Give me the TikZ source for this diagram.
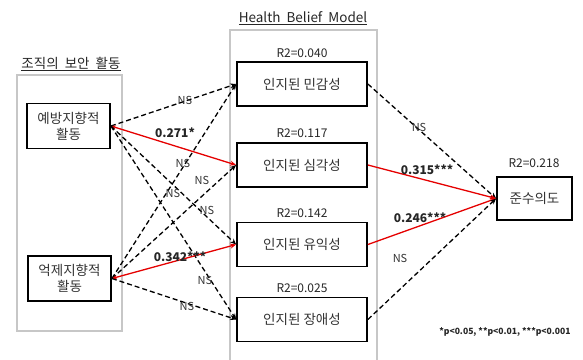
\documentclass[tikz,border=0pt]{standalone}
\usepackage{fontspec}
\setmainfont{Noto Sans CJK KR}
\usetikzlibrary{arrows.meta}
\begin{document}
\begin{tikzpicture}[x=1pt,y=-1pt,
 box/.style={draw=black,line width=1.8pt,minimum width=130pt,minimum height=44pt,inner sep=0pt,align=center,font=\fontsize{13.5}{16}\selectfont,text=black!80},
 grp/.style={draw=black!22,line width=1.5pt},
 ns/.style={draw=black,line width=1.3pt,dash pattern=on 5pt off 3pt,-{Stealth[length=6pt,width=5pt]}},
 sig/.style={draw=red!90!black,line width=1.3pt,{Stealth[length=5pt,width=4pt]}-{Stealth[length=6pt,width=5pt]}},
 lab/.style={font=\fontsize{11}{13}\selectfont,text=black!80,inner sep=0pt},
 blab/.style={font=\bfseries\fontsize{12}{14}\selectfont,inner sep=0pt,text=black!85},
 r2/.style={font=\fontsize{12}{14}\selectfont,text=black!85,inner sep=0pt},
 ttl/.style={font=\fontsize{13.5}{16}\selectfont,text=black!85,inner sep=0pt}]
\useasboundingbox (0,0) rectangle (583,359);
% group frames
\draw[grp] (17,75) rectangle (122,331);
\draw[grp] (230,30) rectangle (377,362);
\node[ttl] (t1) at (71,64) {\underline{조직의\ \ 보안\ \ 활동}};
\node[ttl] (t2) at (303,18) {\underline{Health\ \ Belief\ \ Model}};
% nodes
\node[box,minimum width=83pt,minimum height=45pt] (p) at (68.5,126) {예방지향적\\활동};
\node[box,minimum width=83pt,minimum height=45pt] (q) at (69.5,278.5) {억제지향적\\활동};
\node[box] (m1) at (302,84) {인지된 민감성};
\node[box] (m2) at (302,165) {인지된 심각성};
\node[box] (m3) at (302,244.5) {인지된 유익성};
\node[box] (m4) at (302,319.5) {인지된 장애성};
\node[box,minimum width=75pt,minimum height=43pt] (c) at (534.5,198.5) {준수의도};
% R2 labels
\node[r2] (r1) at (302,53) {R2=0.040};
\node[r2] (r2a) at (302,133) {R2=0.117};
\node[r2] (r3) at (302,213) {R2=0.142};
\node[r2] (r4) at (302,288) {R2=0.025};
\node[r2] (r5) at (534,163) {R2=0.218};
% left paths
\draw[ns] (p.east) -- (m1.west);
\draw[sig] (p.east) -- (m2.west);
\draw[ns] (p.east) -- (m3.west);
\draw[ns] (p.east) -- (m4.west);
\draw[ns] (q.east) -- (m1.west);
\draw[ns] (q.east) -- (m2.west);
\draw[sig] (q.east) -- (m3.west);
\draw[ns] (q.east) -- (m4.west);
% right paths
\draw[ns] (m1.east) -- (c.west);
\draw[sig,-{Stealth[length=6pt,width=5pt]}] (m2.east) -- (c.west);
\draw[sig,-{Stealth[length=6pt,width=5pt]}] (m3.east) -- (c.west);
\draw[ns] (m4.east) -- (c.west);
% path labels
\node[lab] (l1) at (185,100) {NS};
\node[blab] (l2) at (175,133) {0.271*};
\node[lab] (l3) at (183,163) {NS};
\node[lab] (l4) at (202,180) {NS};
\node[lab] (l5) at (173,193) {NS};
\node[lab] (l6) at (207,210) {NS};
\node[blab] (l7) at (180,257) {0.342***};
\node[lab] (l8) at (205,280) {NS};
\node[lab] (l9) at (187,306) {NS};
\node[lab] (l10) at (419,127) {NS};
\node[blab] (l11) at (427,170) {0.315***};
\node[blab] (l12) at (420,218) {0.246***};
\node[lab] (l13) at (400,258) {NS};
\node[blab,font=\bfseries\fontsize{8.6}{10}\selectfont] (fn) at (505,332) {*p<0.05, **p<0.01, ***p<0.001};
\end{tikzpicture}
\end{document}
